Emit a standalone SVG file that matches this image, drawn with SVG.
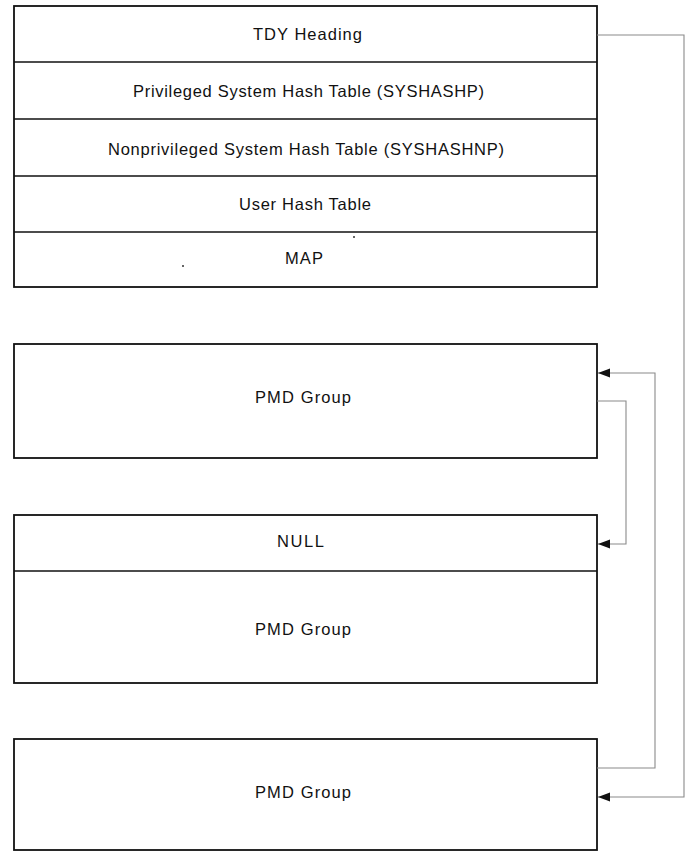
<svg xmlns="http://www.w3.org/2000/svg" width="690" height="853" viewBox="0 0 690 853">
<style>
.box{fill:#fff;stroke:#111;stroke-width:1.8}
.div{stroke:#111;stroke-width:1.6}
.t{font-family:"Liberation Sans",Arial,sans-serif;font-size:16.5px;fill:#111;text-anchor:middle}
.c{fill:none;stroke:#8a8a8a;stroke-width:1.1}
</style>
<defs>
<marker id="ah" markerWidth="13" markerHeight="10" refX="12" refY="5" orient="auto" markerUnits="userSpaceOnUse">
<path d="M0,0.5 L12,5 L0,9.5 Z" fill="#111"/>
</marker>
</defs>
<rect width="690" height="853" fill="#fff"/>
<g id="tdy-table">
<rect class="box" x="14" y="6" width="583" height="281"/>
<line class="div" x1="14" y1="62" x2="597" y2="62"/>
<line class="div" x1="14" y1="119" x2="597" y2="119"/>
<line class="div" x1="14" y1="176" x2="597" y2="176"/>
<line class="div" x1="14" y1="232" x2="597" y2="232"/>
<text class="t" x="307.5" y="40" textLength="109" lengthAdjust="spacing">TDY Heading</text>
<text class="t" x="308.5" y="97" textLength="351" lengthAdjust="spacing">Privileged System Hash Table (SYSHASHP)</text>
<text class="t" x="306" y="155" textLength="396" lengthAdjust="spacing">Nonprivileged System Hash Table (SYSHASHNP)</text>
<text class="t" x="305" y="210" textLength="132" lengthAdjust="spacing">User Hash Table</text>
<text class="t" x="304" y="264" textLength="38" lengthAdjust="spacing">MAP</text>
<circle cx="354" cy="237" r="1" fill="#333"/>
<circle cx="183" cy="266" r="1" fill="#333"/>
</g>
<g id="pmd-group-1">
<rect class="box" x="14" y="344" width="583" height="114"/>
<text class="t" x="303" y="403" textLength="96" lengthAdjust="spacing">PMD Group</text>
</g>
<g id="pmd-group-2">
<rect class="box" x="14" y="515" width="583" height="168"/>
<line class="div" x1="14" y1="571" x2="597" y2="571"/>
<text class="t" x="300.5" y="547" textLength="47" lengthAdjust="spacing">NULL</text>
<text class="t" x="303" y="635" textLength="96" lengthAdjust="spacing">PMD Group</text>
</g>
<g id="pmd-group-3">
<rect class="box" x="14" y="739" width="583" height="111"/>
<text class="t" x="303" y="798" textLength="96" lengthAdjust="spacing">PMD Group</text>
</g>
<g id="connectors">
<path class="c" d="M597,35 H684 V797 H598" marker-end="url(#ah)"/>
<path class="c" d="M597,401 H626 V544 H598" marker-end="url(#ah)"/>
<path class="c" d="M597,768 H655 V373 H598" marker-end="url(#ah)"/>
</g>
</svg>
